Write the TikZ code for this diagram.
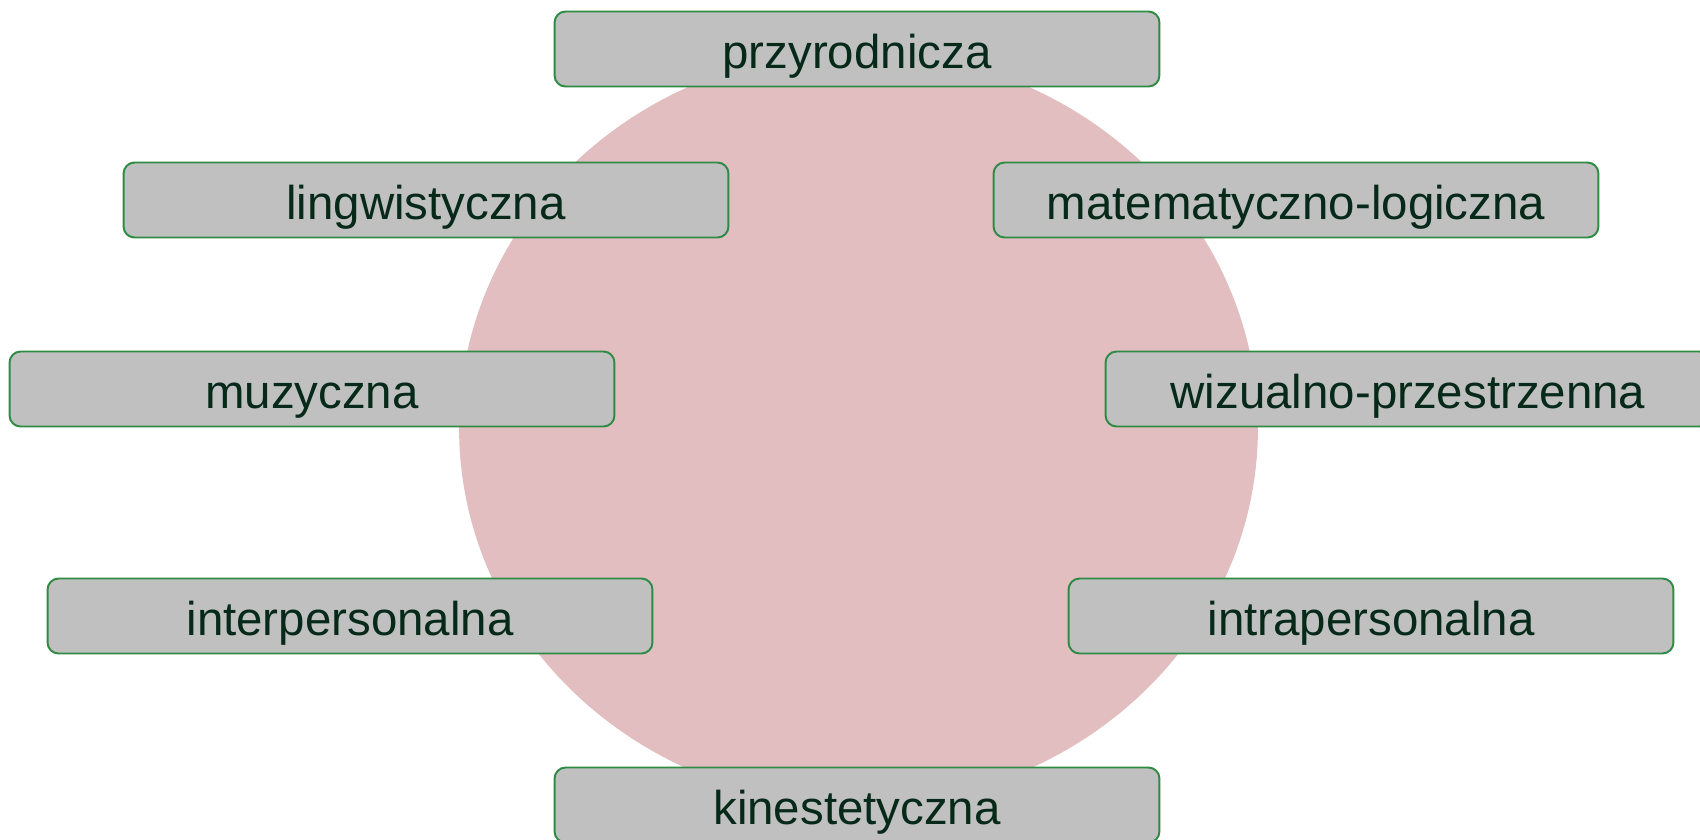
\documentclass[tikz,border=0pt]{standalone}
\usepackage{fontspec}
\setmainfont{Liberation Sans}
\usetikzlibrary{positioning}
\definecolor{boxfill}{HTML}{C0C0C0}
\definecolor{boxline}{HTML}{2E8B44}
\definecolor{boxtext}{HTML}{06291A}
\definecolor{disc}{HTML}{E2BEC1}
\begin{document}
\begin{tikzpicture}[x=0.02cm, y=-0.02cm,
    intel/.style={draw=boxline, line width=1.1pt, fill=boxfill, rounded corners=0.22cm,
        minimum width=12.1cm, minimum height=1.5cm, inner sep=0pt,
        text height=1cm, text depth=0.24cm,
        text=boxtext, font=\fontsize{27}{32}\selectfont}]
        \useasboundingbox (0,0) rectangle (1700,839);
        \clip (0,0) rectangle (1700,839);
        \fill[white] (0,0) rectangle (1700,839);
        \fill[disc] (858.5,428) ellipse [x radius=7.99cm, y radius=7.54cm];
        \node[intel] (przyr) at (857,49) {przyrodnicza};
        \node[intel] (lingw) at (426,200) {lingwistyczna};
        \node[intel] (matem) at (1296,200) {matematyczno-logiczna};
        \node[intel] (muzyk) at (312,389) {muzyczna};
        \node[intel] (wizual) at (1408,389) {wizualno-przestrzenna};
        \node[intel] (inter) at (350,616) {interpersonalna};
        \node[intel] (intra) at (1371,616) {intrapersonalna};
        \node[intel] (kines) at (857,805) {kinestetyczna};
    \end{tikzpicture}
\end{document}
